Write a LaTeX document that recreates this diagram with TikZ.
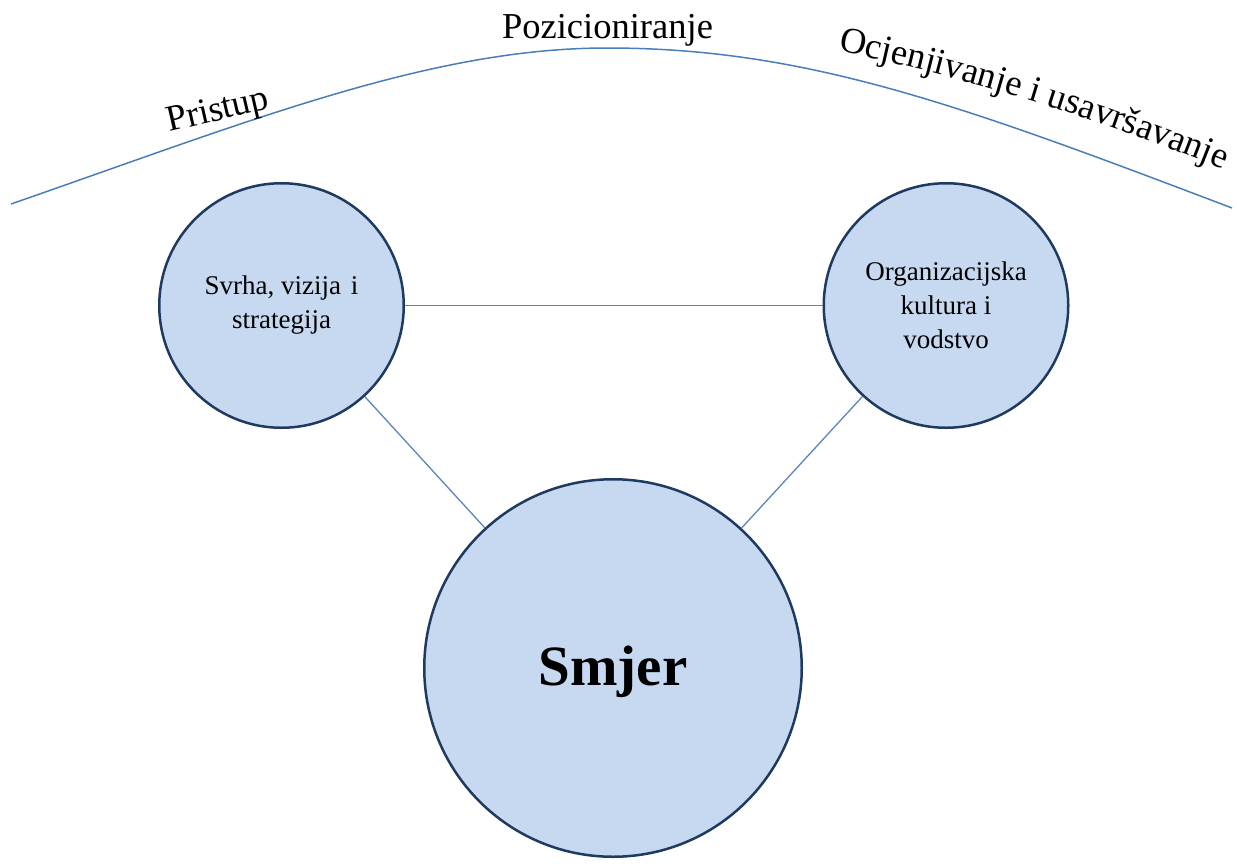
\documentclass[tikz,border=0pt]{standalone}
\usepackage{fontspec}
\setmainfont{Liberation Serif}
\usetikzlibrary{decorations.text}
\definecolor{circfill}{HTML}{C6D9F1}
\definecolor{circdraw}{HTML}{1F3A60}
\definecolor{connblue}{HTML}{5A86C0}
\definecolor{arcblue}{HTML}{4A7EBB}
\newcommand\ocjfont{\fontsize{36.5}{40}\selectfont}
\begin{document}
\begin{tikzpicture}[x=1pt,y=-1pt,
  circ/.style={circle, draw=circdraw, line width=2.5pt, fill=circfill, inner sep=0pt, align=center, text=black},
  smallcirc/.style={circ, minimum size=244.5pt, font=\fontsize{27}{34}\selectfont},
  bigcirc/.style={circ, minimum size=377.5pt, font=\fontsize{57}{60}\selectfont\bfseries, text height=34pt, text depth=0pt},
  conn/.style={draw=connblue, line width=1.3pt},
  arcline/.style={draw=arcblue, line width=1.5pt},
  lbl/.style={font=\fontsize{36.5}{40}\selectfont, inner sep=0pt, anchor=base}]
\useasboundingbox (0,0) rectangle (1237,865);

% arc
\draw[arcline] (11,204) .. controls (250,121) and (430,48) .. (607,48)
               .. controls (807,48) and (962,105.4) .. (1232,208);

% labels along the arc
\node[lbl, rotate=13] (pristup) at (220,120) {Pristup};
\node[lbl] (poz) at (607.5,38) {Pozicioniranje};
\path[decorate, decoration={text along path,
      text={|\ocjfont|Ocjenjivanje i usavršavanje},
      text align={left indent=0pt}}]
  (838,51) .. controls (975,79) and (1110,122) .. (1250,180);

% circles
\node[smallcirc] (L) at (281.5,305.5) {Svrha, vizija\hspace{10pt}i\\strategija};
\node[smallcirc] (R) at (946,305.5) {Organizacijska\\kultura i\\vodstvo};
\node[bigcirc] (S) at (613,668) {Smjer};

% connectors
\draw[conn] (L) -- (R);
\draw[conn] (L) -- (S);
\draw[conn] (R) -- (S);
\end{tikzpicture}
\end{document}
